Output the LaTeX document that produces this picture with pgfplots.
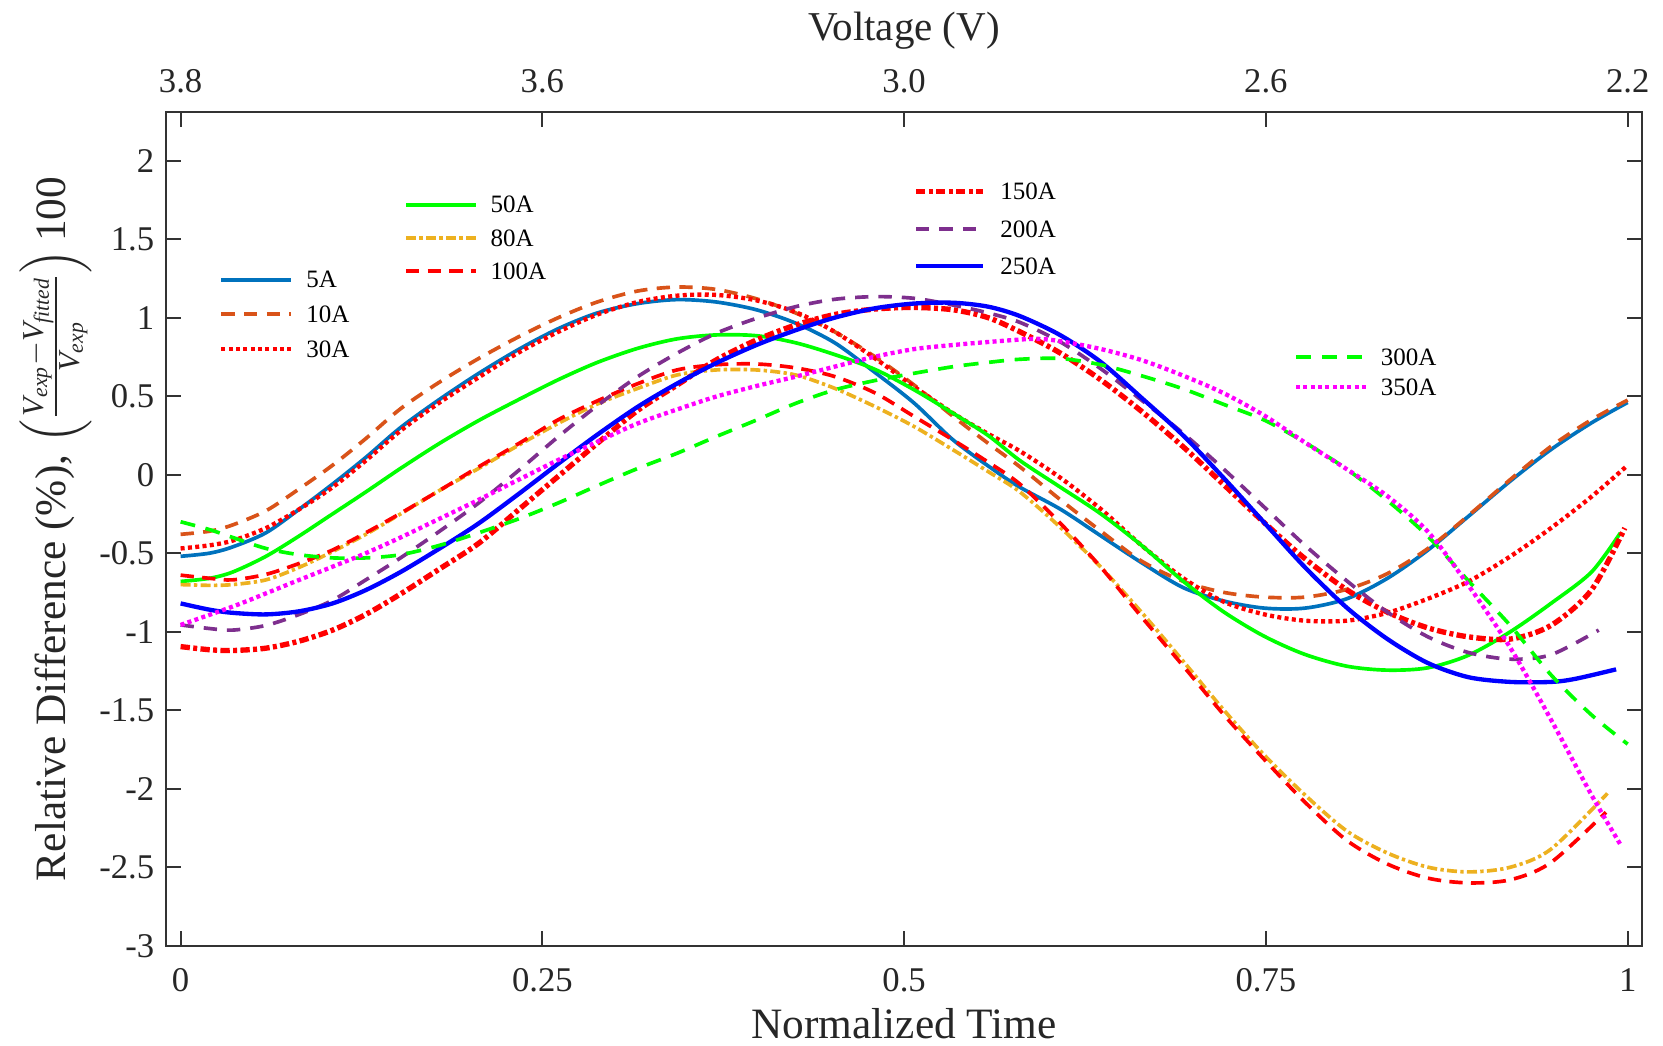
\documentclass[border=0pt]{standalone}
\usepackage{fontspec}
\setmainfont{Liberation Serif}
\usepackage{amsmath}
\usepackage{pgfplots}
\pgfplotsset{compat=1.18}

\definecolor{c5}{RGB}{0,114,189}
\definecolor{c10}{RGB}{217,83,25}
\definecolor{c80}{RGB}{237,177,32}
\definecolor{c200}{RGB}{126,47,142}
\definecolor{cgreen}{RGB}{0,255,0}
\definecolor{cred}{RGB}{255,0,0}
\definecolor{cblue}{RGB}{0,0,255}
\definecolor{cmag}{RGB}{255,0,255}

\pgfplotsset{
  base/.style={
    width=442.8pt, height=250.02pt, scale only axis,
    xmin=-0.0101, xmax=1.0099, ymin=-3, ymax=2.308,
    at={(0pt,0pt)}, anchor=south west,
  },
  leg/.style={
    legend style={draw=none, fill=none, inner sep=0pt, outer sep=0pt, anchor=west,
      font=\fontsize{7.5}{9}\selectfont,
      nodes={inner sep=0pt, text depth=0pt}, column sep=3.8pt},
    legend cell align=left,
    legend image code/.code={\draw[##1] (0pt,0pt) -- (21pt,0pt);},
  },
}

\begin{document}
\begin{tikzpicture}
\useasboundingbox (-49.8pt,-30.09pt) rectangle (449.1pt,283.71pt);

% main axis with group 1
\begin{axis}[base, leg,
  axis line style={black!80, line width=0.6pt},
  every tick/.style={black!80, line width=0.6pt},
  major tick length=4.5pt,
  tick align=inside,
  xtick={0,0.25,0.5,0.75,1},
  ytick={-3,-2.5,-2,-1.5,-1,-0.5,0,0.5,1,1.5,2},
  ticklabel style={font=\fontsize{10.4}{12}\selectfont, color=black!85},
  /pgf/number format/assume math mode=true,
  xticklabel style={yshift=-3.3pt},
  xlabel={Normalized Time},
  ylabel={Relative Difference (\%), $\left(\frac{\textit{V}_{\textit{exp}}-\textit{V}_{\textit{fitted}}}{\textit{V}_{\textit{exp}}}\right)$\,100},
  label style={font=\fontsize{13}{15}\selectfont, color=black!85},
  xlabel style={yshift=2pt},
  ylabel shift=-4.6pt,
  legend style={at={(0.0361,0.7576)}, row sep=5.4pt},
]
\addplot[c5, line width=1.1pt, smooth] coordinates {
(0,-0.52) (0.02,-0.50) (0.036,-0.46) (0.059,-0.37) (0.082,-0.22) (0.105,-0.06) (0.128,0.11) (0.152,0.30) (0.179,0.48) (0.206,0.645) (0.234,0.80) (0.261,0.93) (0.288,1.03) (0.316,1.09) (0.343,1.115) (0.37,1.10) (0.398,1.05) (0.425,0.965) (0.452,0.84) (0.48,0.65) (0.507,0.455) (0.534,0.22) (0.562,0.03) (0.58,-0.08) (0.608,-0.22) (0.636,-0.39) (0.664,-0.56) (0.693,-0.72) (0.721,-0.805) (0.749,-0.85) (0.777,-0.85) (0.806,-0.79) (0.834,-0.66) (0.862,-0.48) (0.89,-0.265) (0.919,-0.04) (0.947,0.16) (0.975,0.33) (1.0,0.46)};
\addlegendentry{5A}
\addplot[c10, line width=1.1pt, dash pattern=on 4pt off 2.8pt, smooth] coordinates {
(0,-0.38) (0.02,-0.36) (0.036,-0.32) (0.059,-0.23) (0.082,-0.09) (0.105,0.06) (0.128,0.23) (0.152,0.42) (0.179,0.59) (0.206,0.74) (0.234,0.88) (0.261,1.0) (0.288,1.1) (0.316,1.17) (0.343,1.195) (0.37,1.18) (0.398,1.12) (0.425,1.03) (0.452,0.91) (0.48,0.75) (0.507,0.57) (0.534,0.37) (0.558,0.2) (0.58,0.05) (0.608,-0.16) (0.636,-0.36) (0.664,-0.55) (0.693,-0.68) (0.721,-0.75) (0.749,-0.78) (0.777,-0.78) (0.806,-0.73) (0.834,-0.63) (0.862,-0.47) (0.89,-0.26) (0.919,-0.03) (0.947,0.18) (0.975,0.35) (1.0,0.475)};
\addlegendentry{10A}
\addplot[cred, line width=1.3pt, dash pattern=on 1.2pt off 1pt, smooth] coordinates {
(0,-0.47) (0.02,-0.45) (0.036,-0.42) (0.059,-0.34) (0.082,-0.22) (0.105,-0.08) (0.128,0.09) (0.152,0.28) (0.179,0.46) (0.206,0.62) (0.234,0.78) (0.261,0.91) (0.288,1.02) (0.316,1.10) (0.343,1.14) (0.37,1.145) (0.398,1.11) (0.425,1.035) (0.452,0.91) (0.48,0.74) (0.507,0.56) (0.534,0.39) (0.558,0.26) (0.58,0.15) (0.608,-0.02) (0.636,-0.22) (0.664,-0.45) (0.693,-0.66) (0.721,-0.81) (0.749,-0.89) (0.777,-0.93) (0.806,-0.93) (0.834,-0.88) (0.862,-0.79) (0.89,-0.68) (0.919,-0.52) (0.947,-0.34) (0.975,-0.14) (1.0,0.06)};
\addlegendentry{30A}
\end{axis}

% group 2
\begin{axis}[base, leg, hide axis,
  legend style={at={(0.1614,0.8492)}, row sep=5.0pt},
]
\addplot[cgreen, line width=1.1pt, smooth] coordinates {
(0,-0.68) (0.02,-0.66) (0.036,-0.62) (0.059,-0.52) (0.082,-0.39) (0.105,-0.25) (0.128,-0.11) (0.152,0.04) (0.179,0.20) (0.206,0.345) (0.234,0.48) (0.261,0.605) (0.288,0.715) (0.316,0.805) (0.343,0.865) (0.37,0.89) (0.398,0.885) (0.425,0.84) (0.452,0.765) (0.48,0.67) (0.507,0.54) (0.534,0.39) (0.558,0.25) (0.58,0.09) (0.608,-0.08) (0.636,-0.25) (0.664,-0.45) (0.693,-0.68) (0.721,-0.875) (0.749,-1.03) (0.777,-1.145) (0.806,-1.22) (0.834,-1.245) (0.862,-1.23) (0.89,-1.15) (0.919,-1.0) (0.947,-0.82) (0.975,-0.62) (0.995,-0.37)};
\addlegendentry{50A}
\addplot[c80, line width=1.1pt, dash pattern=on 3pt off 1pt on 1pt off 1pt, smooth] coordinates {
(0,-0.70) (0.02,-0.705) (0.036,-0.70) (0.059,-0.67) (0.082,-0.59) (0.105,-0.49) (0.128,-0.38) (0.152,-0.25) (0.179,-0.10) (0.206,0.04) (0.234,0.19) (0.261,0.327) (0.288,0.45) (0.316,0.55) (0.343,0.635) (0.37,0.667) (0.398,0.667) (0.425,0.635) (0.452,0.55) (0.48,0.433) (0.507,0.306) (0.534,0.157) (0.558,0.02) (0.58,-0.11) (0.608,-0.336) (0.636,-0.59) (0.664,-0.876) (0.693,-1.19) (0.721,-1.5) (0.749,-1.787) (0.777,-2.04) (0.806,-2.27) (0.834,-2.41) (0.862,-2.5) (0.89,-2.53) (0.919,-2.5) (0.947,-2.385) (0.986,-2.03)};
\addlegendentry{80A}
\addplot[cred, line width=1.1pt, dash pattern=on 4pt off 2.5pt, smooth] coordinates {
(0,-0.64) (0.02,-0.66) (0.036,-0.67) (0.059,-0.635) (0.082,-0.565) (0.105,-0.48) (0.128,-0.37) (0.152,-0.246) (0.179,-0.1) (0.206,0.05) (0.234,0.2) (0.261,0.35) (0.288,0.47) (0.316,0.58) (0.343,0.667) (0.37,0.70) (0.398,0.705) (0.425,0.68) (0.452,0.625) (0.48,0.52) (0.507,0.37) (0.534,0.22) (0.558,0.08) (0.58,-0.06) (0.608,-0.31) (0.636,-0.59) (0.664,-0.905) (0.693,-1.22) (0.721,-1.53) (0.749,-1.815) (0.777,-2.086) (0.806,-2.33) (0.834,-2.48) (0.862,-2.57) (0.89,-2.6) (0.919,-2.58) (0.947,-2.47) (0.985,-2.15)};
\addlegendentry{100A}
\end{axis}

% group 3
\begin{axis}[base, hide axis,
  legend style={draw=none, fill=none, inner sep=0pt, outer sep=0pt, anchor=west,
      font=\fontsize{7.5}{9}\selectfont,
      nodes={inner sep=0pt, text depth=0pt}, column sep=4.5pt,
      at={(0.5064,0.860)}, row sep=6.2pt},
  legend cell align=left,
  legend image code/.code={\draw[#1] (0pt,0pt) -- (20pt,0pt);},
]
\addplot[cred, line width=1.6pt, dash pattern=on 2.8pt off 1pt on 1.2pt off 1pt, smooth] coordinates {
(0,-1.095) (0.02,-1.115) (0.036,-1.12) (0.059,-1.105) (0.082,-1.06) (0.105,-0.99) (0.128,-0.89) (0.152,-0.76) (0.179,-0.60) (0.206,-0.437) (0.234,-0.22) (0.261,-0.01) (0.288,0.2) (0.316,0.41) (0.343,0.57) (0.37,0.73) (0.398,0.858) (0.425,0.953) (0.452,1.02) (0.48,1.055) (0.507,1.065) (0.534,1.05) (0.558,1.0) (0.58,0.91) (0.608,0.774) (0.636,0.603) (0.664,0.404) (0.693,0.176) (0.721,-0.065) (0.749,-0.307) (0.777,-0.535) (0.806,-0.734) (0.834,-0.876) (0.862,-0.976) (0.89,-1.033) (0.919,-1.047) (0.947,-0.96) (0.975,-0.734) (0.998,-0.34)};
\addlegendentry{150A}
\addplot[c200, line width=1.1pt, dash pattern=on 4pt off 3pt, smooth] coordinates {
(0,-0.957) (0.02,-0.98) (0.036,-0.99) (0.059,-0.96) (0.082,-0.89) (0.105,-0.80) (0.128,-0.67) (0.152,-0.53) (0.179,-0.36) (0.206,-0.18) (0.234,0.03) (0.261,0.242) (0.288,0.44) (0.316,0.625) (0.343,0.773) (0.37,0.90) (0.398,0.996) (0.425,1.07) (0.452,1.117) (0.48,1.134) (0.507,1.123) (0.534,1.08) (0.558,1.03) (0.58,0.97) (0.608,0.845) (0.636,0.674) (0.664,0.475) (0.693,0.262) (0.721,0.034) (0.749,-0.208) (0.777,-0.45) (0.806,-0.677) (0.834,-0.876) (0.862,-1.033) (0.89,-1.133) (0.919,-1.175) (0.947,-1.147) (0.98,-0.99)};
\addlegendentry{200A}
\addplot[cblue, line width=1.3pt, smooth] coordinates {
(0,-0.82) (0.02,-0.86) (0.036,-0.88) (0.059,-0.89) (0.082,-0.87) (0.105,-0.82) (0.128,-0.735) (0.152,-0.62) (0.179,-0.47) (0.206,-0.31) (0.234,-0.12) (0.261,0.07) (0.288,0.255) (0.316,0.433) (0.343,0.58) (0.37,0.71) (0.398,0.826) (0.425,0.92) (0.452,1.0) (0.48,1.06) (0.507,1.09) (0.534,1.095) (0.558,1.07) (0.58,1.01) (0.608,0.888) (0.636,0.717) (0.664,0.49) (0.693,0.248) (0.721,-0.023) (0.749,-0.307) (0.777,-0.59) (0.806,-0.848) (0.834,-1.047) (0.862,-1.2) (0.89,-1.29) (0.919,-1.32) (0.947,-1.32) (0.964,-1.30) (0.992,-1.24)};
\addlegendentry{250A}
\end{axis}

% group 4
\begin{axis}[base, leg, hide axis,
  legend style={at={(0.7642,0.6884)}, row sep=4.1pt},
]
\addplot[cgreen, line width=1.1pt, dash pattern=on 4.5pt off 3.2pt, smooth] coordinates {
(0,-0.30) (0.02,-0.35) (0.036,-0.40) (0.059,-0.47) (0.082,-0.51) (0.105,-0.53) (0.128,-0.53) (0.152,-0.51) (0.179,-0.45) (0.206,-0.37) (0.234,-0.28) (0.261,-0.18) (0.288,-0.07) (0.316,0.04) (0.343,0.136) (0.37,0.242) (0.398,0.348) (0.425,0.454) (0.452,0.54) (0.48,0.60) (0.507,0.646) (0.534,0.688) (0.558,0.715) (0.58,0.735) (0.608,0.74) (0.636,0.70) (0.664,0.63) (0.693,0.546) (0.721,0.447) (0.749,0.347) (0.777,0.205) (0.806,0.034) (0.834,-0.165) (0.862,-0.393) (0.89,-0.677) (0.919,-0.962) (0.947,-1.275) (0.975,-1.53) (1.0,-1.716)};
\addlegendentry{300A}
\addplot[cmag, line width=1.3pt, dash pattern=on 1.2pt off 1pt, smooth] coordinates {
(0,-0.957) (0.036,-0.84) (0.059,-0.756) (0.082,-0.67) (0.105,-0.586) (0.128,-0.50) (0.152,-0.40) (0.179,-0.28) (0.206,-0.16) (0.234,-0.03) (0.261,0.094) (0.288,0.21) (0.316,0.327) (0.343,0.415) (0.37,0.497) (0.398,0.565) (0.425,0.624) (0.452,0.688) (0.48,0.752) (0.507,0.80) (0.534,0.826) (0.558,0.845) (0.59,0.865) (0.608,0.85) (0.636,0.80) (0.664,0.73) (0.693,0.63) (0.721,0.518) (0.749,0.376) (0.777,0.205) (0.806,0.034) (0.834,-0.137) (0.862,-0.364) (0.89,-0.706) (0.919,-1.104) (0.947,-1.56) (0.975,-2.04) (0.995,-2.356)};
\addlegendentry{350A}
\end{axis}

% top voltage axis
\begin{axis}[base,
  axis x line*=top, axis y line=none,
  axis line style={draw=none},
  xtick={0,0.25,0.5,0.75,1},
  xticklabels={3.8,3.6,3.0,2.6,2.2},
  major tick length=0pt,
  ticklabel style={font=\fontsize{10.4}{12}\selectfont, color=black!85},
  xticklabel style={yshift=2.3pt},
  xlabel={Voltage (V)},
  xlabel style={font=\fontsize{12.3}{14}\selectfont, color=black!85, yshift=-0.8pt},
]
\addplot[draw=none] coordinates {(0,0)};
\end{axis}
\end{tikzpicture}
\end{document}
